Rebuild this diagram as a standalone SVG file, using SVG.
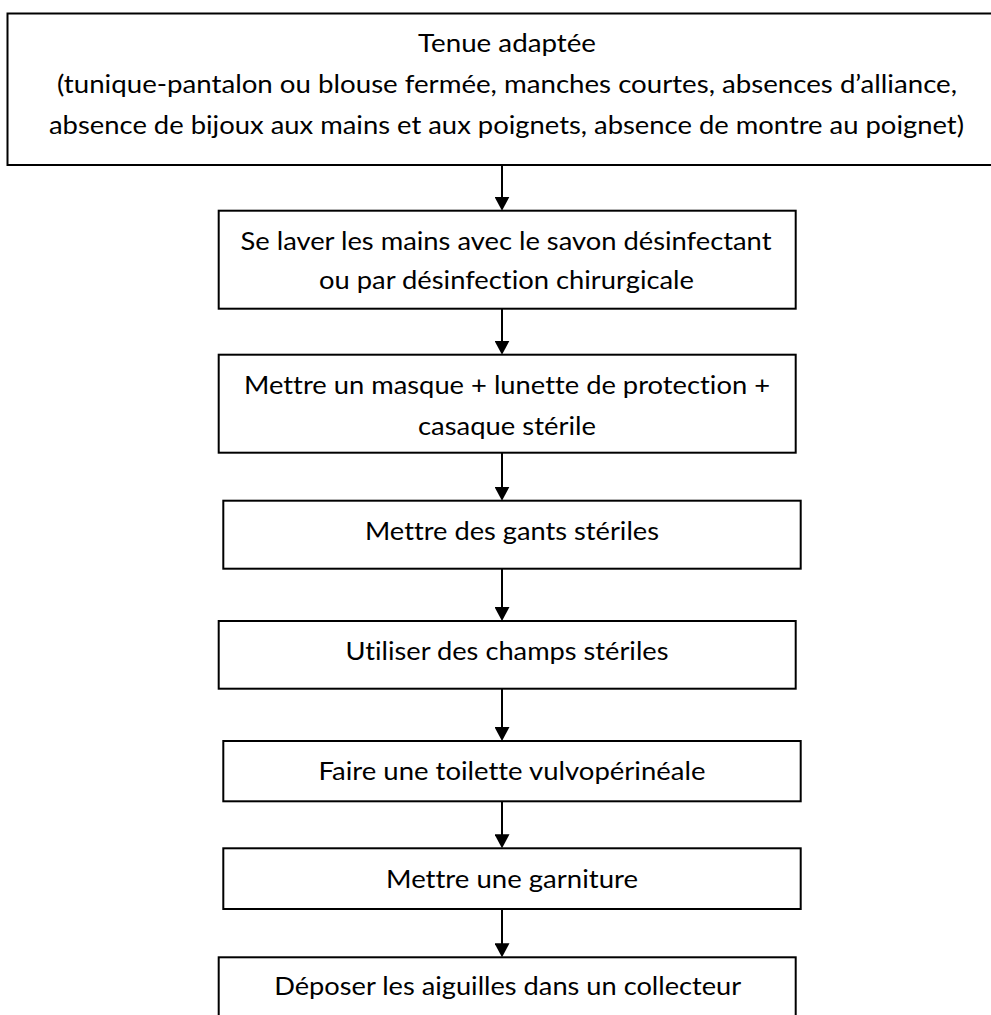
<svg xmlns="http://www.w3.org/2000/svg" width="991" height="1015" viewBox="0 0 991 1015">
<style>
.box{fill:#fff;stroke:#000;stroke-width:2}
.t{font-family:Lato,"Open Sans","Liberation Sans",sans-serif;font-size:25px;fill:#000;text-anchor:middle;font-variant-ligatures:none}
.c{stroke:#000;stroke-width:2;fill:none;marker-end:url(#ah)}
</style>
<defs>
<marker id="ah" viewBox="0 0 14 15" refX="6" refY="7.5" markerWidth="14" markerHeight="15" markerUnits="userSpaceOnUse" orient="auto">
<path d="M0,0 L14,7.5 L0,15 Z" fill="#000"/>
</marker>
</defs>
<rect width="991" height="1015" fill="#fff"/>
<g id="connectors">
<line class="c" x1="502" y1="165" x2="502" y2="202.7"/>
<line class="c" x1="502" y1="308.7" x2="502" y2="346.7"/>
<line class="c" x1="502" y1="452.7" x2="502" y2="492.7"/>
<line class="c" x1="502" y1="568.7" x2="502" y2="613"/>
<line class="c" x1="502" y1="688.7" x2="502" y2="733"/>
<line class="c" x1="502" y1="801.3" x2="502" y2="840.3"/>
<line class="c" x1="502" y1="909" x2="502" y2="949.3"/>
</g>
<g id="n1">
<rect class="box" x="7.5" y="13.5" width="1000" height="151.5"/>
<text class="t" x="507" y="52" textLength="178" lengthAdjust="spacingAndGlyphs">Tenue adaptée</text>
<text class="t" x="507" y="92.5" textLength="900" lengthAdjust="spacingAndGlyphs">(tunique-pantalon ou blouse fermée, manches courtes, absences d’alliance,</text>
<text class="t" x="506.5" y="133.5" textLength="915" lengthAdjust="spacingAndGlyphs">absence de bijoux aux mains et aux poignets, absence de montre au poignet)</text>
</g>
<g id="n2">
<rect class="box" x="218.7" y="210.7" width="577" height="98"/>
<text class="t" x="506" y="249.5" textLength="531" lengthAdjust="spacingAndGlyphs">Se laver les mains avec le savon désinfectant</text>
<text class="t" x="506.5" y="288.5" textLength="375" lengthAdjust="spacingAndGlyphs">ou par désinfection chirurgicale</text>
</g>
<g id="n3">
<rect class="box" x="218.7" y="354.7" width="577" height="98"/>
<text class="t" x="507" y="393.5" textLength="526" lengthAdjust="spacingAndGlyphs">Mettre un masque + lunette de protection +</text>
<text class="t" x="507" y="435" textLength="178" lengthAdjust="spacingAndGlyphs">casaque stérile</text>
</g>
<g id="n4">
<rect class="box" x="223.3" y="500.7" width="577.4" height="68"/>
<text class="t" x="512" y="539.5" textLength="294" lengthAdjust="spacingAndGlyphs">Mettre des gants stériles</text>
</g>
<g id="n5">
<rect class="box" x="218.7" y="621" width="577" height="67.7"/>
<text class="t" x="507" y="659.5" textLength="323" lengthAdjust="spacingAndGlyphs">Utiliser des champs stériles</text>
</g>
<g id="n6">
<rect class="box" x="223.3" y="741" width="577.4" height="60.3"/>
<text class="t" x="512" y="780" textLength="387" lengthAdjust="spacingAndGlyphs">Faire une toilette vulvopérinéale</text>
</g>
<g id="n7">
<rect class="box" x="223.3" y="848.3" width="577.4" height="60.7"/>
<text class="t" x="512" y="887.5" textLength="252" lengthAdjust="spacingAndGlyphs">Mettre une garniture</text>
</g>
<g id="n8">
<rect class="box" x="218.7" y="957.3" width="577" height="80"/>
<text class="t" x="507.7" y="995" textLength="467" lengthAdjust="spacingAndGlyphs">Déposer les aiguilles dans un collecteur</text>
</g>
</svg>
